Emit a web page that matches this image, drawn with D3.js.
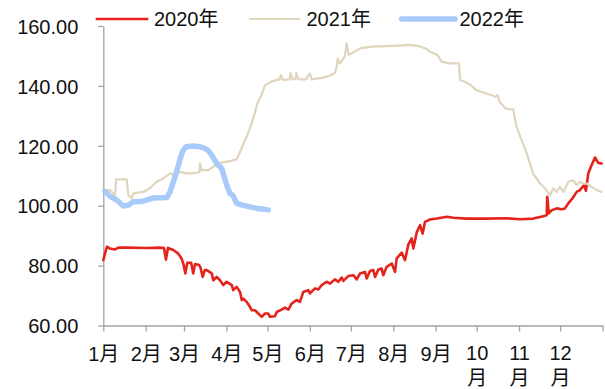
<!DOCTYPE html>
<html>
<head>
<meta charset="utf-8">
<script src="https://cdn.jsdelivr.net/npm/d3@7"></script>
<style>
  html, body { margin: 0; padding: 0; background: #fff; }
  svg text { font-family: "Liberation Sans", Arial, "Noto Sans CJK SC", sans-serif; fill: #111; }
</style>
</head>
<body>
<svg id="chart" width="605" height="389"></svg>
<script>
// Day-of-year positions of month starts (last entry closes the year)
const monthStarts = [0, 31, 59, 90, 120, 151, 181, 212, 243, 273, 304, 334, 365];
const monthLabels = ["1月", "2月", "3月", "4月", "5月", "6月", "7月", "8月", "9月", "10月", "11月", "12月"];
const yTicks = [60, 80, 100, 120, 140, 160];
const seriesNames = ["2020年", "2021年", "2022年"];

// [day of year, value]
const price2020 = [
  [0, 81.8], [1.2, 84.0], [2.7, 86.3], [4.9, 85.7], [8.6, 85.4], [11, 86.0], [17, 86.0],
  [31.7, 85.9], [41.5, 86.0], [44.4, 85.9], [45.8, 82.0], [47.3, 85.9], [51.2, 85.2],
  [54.8, 84.0], [57.2, 82.4], [58.6, 80.5], [60, 77.4], [61.4, 80.9], [64.3, 80.9],
  [65.7, 77.4], [67.1, 80.5], [70, 80.2], [71, 79.5], [72.7, 76.2], [74.2, 78.5],
  [75.6, 78.5], [79.3, 77.4], [80.4, 75.1], [82.9, 76.2], [85.3, 75.1], [87.7, 73.5],
  [90.2, 74.6], [93.9, 73.5], [95, 71.8], [97.5, 72.9], [100, 71.2], [101.2, 68.5],
  [102.4, 69.0], [104.8, 67.9], [107.3, 66.2], [108.5, 65.1], [110.9, 65.1], [113.3, 64.0],
  [115.8, 62.9], [118.2, 64.0], [120.6, 64.0], [121.9, 62.9], [125.5, 63.1], [126.8, 64.5],
  [130.4, 65.3], [132.9, 66.0], [135.3, 65.3], [137.7, 67.3], [141.4, 68.5], [143.8, 67.9],
  [146.2, 71.2], [149.9, 71.8], [151.1, 70.7], [154.8, 72.4], [157.2, 72.0], [159.7, 73.5],
  [163.3, 74.6], [165.8, 74.0], [169.4, 75.4], [171.8, 74.6], [174.3, 76.0], [175.5, 74.9],
  [179.1, 76.5], [182.8, 76.8], [185.3, 75.4], [187.7, 77.4], [191.3, 77.9], [192.6, 75.7],
  [195, 78.2], [197.4, 78.5], [198.7, 76.2], [201.1, 78.7], [203.5, 79.0], [204.7, 76.8],
  [207.2, 79.6], [210.9, 80.7], [213.3, 77.9], [214.5, 82.4], [218.2, 84.3], [220.6, 81.8],
  [223, 87.0], [225.5, 89.1], [226.7, 85.7], [229.1, 91.0], [231.6, 93.5], [233.5, 90.7],
  [235.2, 94.6], [238.9, 95.4], [243.8, 95.7], [251.1, 96.3], [255.9, 96.0], [265.7, 95.7],
  [280.3, 95.7], [294.9, 95.8], [304.7, 95.5], [314.4, 95.7], [321.7, 96.5], [324.2, 96.8],
  [324.6, 103.0], [325.7, 97.4], [327.9, 98.5], [331.5, 99.1], [335.2, 98.8], [337.6, 99.1],
  [340, 100.8], [343.6, 102.8], [346.1, 104.6], [348.5, 105.2], [351.5, 106.9], [352.9, 105.0],
  [354.6, 110.8], [357.1, 113.6], [359.5, 116.1], [361.9, 114.3], [364.4, 114.1]
];

const price2021 = [
  [2, 105.2], [4.9, 105.2], [8.6, 103.5], [9.4, 108.8], [17.1, 108.8], [18.3, 103.5],
  [20.8, 102.4], [21.9, 104.1], [29.2, 104.6], [34.1, 105.8], [39, 108.0], [43.9, 109.1],
  [48.8, 110.8], [52.4, 110.2], [56.1, 111.3], [61, 110.8], [64.6, 110.8], [68.3, 111.0],
  [70.3, 111.2], [70.7, 114.1], [71.9, 111.9], [76.8, 111.9], [80.4, 113.0], [85.3, 114.3],
  [92.6, 114.9], [97.5, 115.5], [100, 118.0], [104.8, 123.0], [107.3, 126.0], [110, 129.7],
  [112.7, 134.2], [115.6, 136.9], [118.4, 140.3], [122.7, 141.4], [126.9, 142.0], [128.8, 142.2],
  [129.8, 143.6], [131.2, 142.0], [136.2, 142.2], [136.9, 144.4], [138.3, 142.2], [140.5, 142.3],
  [141.1, 144.4], [142.5, 142.2], [148.2, 142.2], [151, 144.2], [152.4, 142.2], [159.5, 142.7],
  [165.2, 143.3], [169.4, 144.4], [170.9, 147.0], [171.4, 149.2], [173.1, 147.5], [176.5, 149.8],
  [177.9, 154.2], [179.4, 150.3], [183.6, 151.4], [187.8, 152.5], [196.3, 153.1], [207.6, 153.3],
  [219, 153.5], [224.6, 153.7], [230.3, 153.3], [235.9, 152.5], [238.8, 151.4], [244.4, 150.3],
  [247.3, 148.1], [253, 147.5], [260, 147.5], [260.9, 142.0], [264.3, 141.4], [268.6, 140.3],
  [272.8, 138.6], [278.4, 137.7], [284.1, 136.9], [286.9, 136.4], [288.4, 136.9], [289.8, 134.7],
  [294, 132.5], [296.9, 132.2], [299.7, 132.2], [301.1, 128.6], [302.5, 125.8], [305.9, 121.9],
  [309.6, 117.5], [312, 114.1], [314.4, 110.5], [316.9, 109.1], [319.3, 107.4], [322.9, 105.8],
  [326.6, 103.5], [329, 105.8], [331.5, 104.6], [333.9, 106.3], [336.3, 104.6], [340, 108.0],
  [343.6, 108.5], [346.1, 106.9], [348.5, 108.0], [350.9, 107.4], [353.4, 107.4], [357.1, 106.3],
  [360.7, 105.2], [364.4, 104.6]
];

const price2022 = [
  [1.2, 104.8], [4.9, 103.1], [9.8, 101.9], [14.6, 99.9], [18.3, 100.2], [21.9, 101.3],
  [29.2, 101.5], [36.6, 102.6], [46.4, 102.7], [48.8, 104.6], [52.4, 109.5], [56.1, 115.5],
  [58.1, 118.3], [60.5, 119.7], [65.8, 119.9], [70.7, 119.7], [74.4, 119.1], [76.8, 118.4],
  [79.3, 116.9], [82.9, 114.1], [86.6, 112.4], [90.2, 106.9], [92.6, 104.1], [95, 103.3],
  [97.5, 100.8], [102.4, 100.1], [107.3, 99.6], [112.2, 99.1], [116, 98.9], [120.6, 98.6]
];

const series = [
  { name: seriesNames[0], data: price2020, color: "#E5231D", width: 2.6 },
  { name: seriesNames[1], data: price2021, color: "#E0D5BD", width: 2.2 },
  { name: seriesNames[2], data: price2022, color: "#A8CBF9", width: 5.5 }
];

const svg = d3.select("#chart");
const axisColor = "#A3A3A3";

const x = d3.scaleLinear().domain([0, 365]).range([103.3, 602.5]);
const y = d3.scaleLinear().domain([60, 160]).range([325.5, 26]);

// Y axis
const yAxis = svg.append("g")
  .attr("transform", `translate(${x(0)},0)`)
  .call(d3.axisLeft(y).tickValues(yTicks).tickFormat(d3.format(".2f"))
    .tickSize(5).tickSizeOuter(0).tickPadding(20));
yAxis.select(".domain").attr("stroke", axisColor).attr("stroke-width", 1.3);
yAxis.selectAll(".tick line").attr("stroke", axisColor).attr("stroke-width", 1.3);
yAxis.selectAll(".tick text").attr("font-size", 20).attr("dy", "0.36em").attr("fill", "#111");

// X axis with month labels, long labels wrap the 月 onto a second line
const xAxis = svg.append("g")
  .attr("transform", `translate(0,${y(60)})`)
  .call(d3.axisBottom(x).tickValues(monthStarts).tickFormat(() => "")
    .tickSize(6).tickSizeOuter(0));
xAxis.select(".domain").attr("stroke", axisColor).attr("stroke-width", 1.3);
xAxis.selectAll(".tick line").attr("stroke", axisColor).attr("stroke-width", 1.3);
xAxis.selectAll(".tick text").each(function (d, i) {
  const label = monthLabels[i];
  const t = d3.select(this).attr("font-size", 20).attr("dy", null).attr("y", 35.5).attr("fill", "#111");
  if (!label) return;
  if (label.length > 2) {
    t.append("tspan").attr("x", 0).attr("y", 34).text(label.slice(0, -1));
    t.append("tspan").attr("x", 0).attr("y", 59.5).text(label.slice(-1));
  } else {
    t.text(label);
  }
});

// Series lines
const line = d3.line().x(d => x(d[0])).y(d => y(d[1]));
svg.append("g").selectAll("path")
  .data(series)
  .join("path")
  .attr("d", d => line(d.data))
  .attr("fill", "none")
  .attr("stroke", d => d.color)
  .attr("stroke-width", d => d.width)
  .attr("stroke-linejoin", "round")
  .attr("stroke-linecap", "round");

// Legend
const legendItems = [
  { x1: 95.7, x2: 148.3, tx: 154 },
  { x1: 249, x2: 300, tx: 306.5 },
  { x1: 401.5, x2: 455, tx: 459.5 }
];
const legend = svg.append("g");
series.forEach((s, i) => {
  const p = legendItems[i];
  legend.append("line")
    .attr("x1", p.x1).attr("x2", p.x2).attr("y1", 19).attr("y2", 19)
    .attr("stroke", s.color).attr("stroke-width", s.width)
    .attr("stroke-linecap", i === 2 ? "round" : "butt");
  legend.append("text")
    .attr("x", p.tx).attr("y", 26).attr("font-size", 20).text(s.name);
});
</script>
</body>
</html>
